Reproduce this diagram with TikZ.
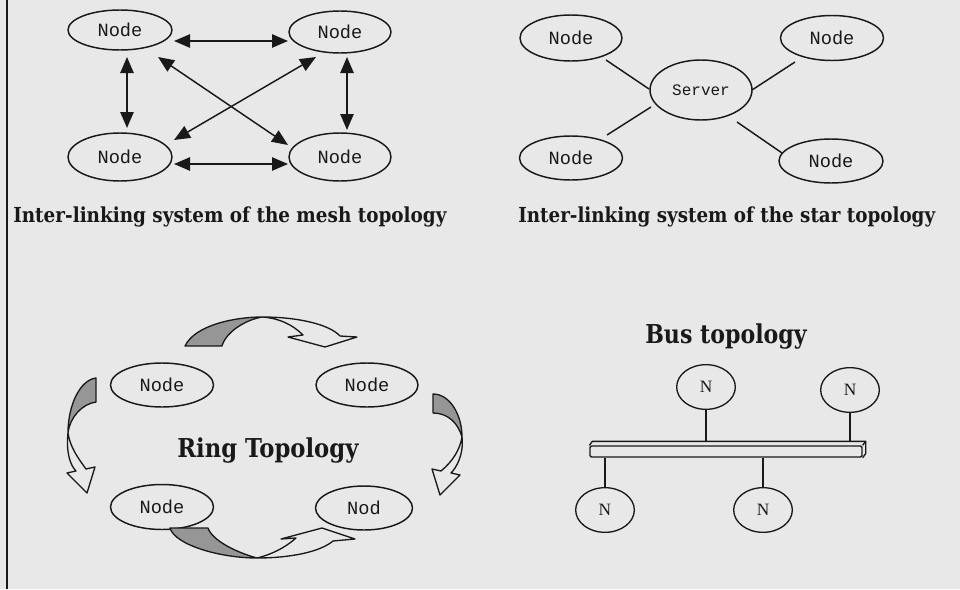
\documentclass[tikz,border=0pt]{standalone}
\usepackage{fontspec}
\usetikzlibrary{arrows.meta,calc,shapes.geometric}
\newfontfamily\monofam{Liberation Mono}
\newfontfamily\nfam{Liberation Serif}
\newfontfamily\capfam{DejaVu Serif}
\definecolor{bg}{RGB}{232,232,232}
\definecolor{ink}{RGB}{25,25,25}
\definecolor{shade}{RGB}{150,150,150}
\begin{document}
\begin{tikzpicture}[x=0.75pt,y=-0.75pt,line join=round,
  nd/.style={ellipse, draw=ink, line width=1.1pt, inner sep=0pt, text=ink,
    font=\monofam\fontsize{14}{16}\selectfont},
  bn/.style={ellipse, draw=ink, line width=1pt, inner sep=0pt, text=ink,
    minimum width=44pt, minimum height=33.5pt, font=\nfam\fontsize{13}{15}\selectfont},
  mesharrow/.style={draw=ink, line width=1.1pt,
    {Triangle[length=12pt,width=10pt]}-{Triangle[length=12pt,width=10pt]}},
  link/.style={draw=ink, line width=1.1pt},
  ribbon/.style={draw=ink, line width=1pt},
  capt/.style={anchor=base west, inner sep=0pt, text=ink,
    font=\capfam\bfseries\fontsize{15.5}{18}\selectfont},
  ttl/.style={anchor=base west, inner sep=0pt, text=ink,
    font=\capfam\bfseries\fontsize{19.5}{22}\selectfont}]
\useasboundingbox (0,0) rectangle (960,589);
\fill[bg] (0,0) rectangle (960,589);
\draw[ink, line width=1.5pt] (7,0) -- (7,589);

% ---------- mesh ----------
\node[nd, minimum width=78pt, minimum height=30pt] (m1) at (120,30) {Node};
\node[nd, minimum width=76.5pt, minimum height=31.5pt] (m2) at (340,32) {Node};
\node[nd, minimum width=78pt, minimum height=36pt] (m3) at (120,157) {Node};
\node[nd, minimum width=76.5pt, minimum height=36pt] (m4) at (340,157) {Node};
\draw[mesharrow] ($(m1)+(54,11)$) -- ($(m2)+(-52,9)$);
\draw[mesharrow] ($(m1)+(7,27)$) -- ($(m3)+(7,-29)$);
\draw[mesharrow] ($(m2)+(7,25)$) -- ($(m4)+(7,-27)$);
\draw[mesharrow] ($(m3)+(54,7)$) -- ($(m4)+(-52,7)$);
\draw[mesharrow] ($(m1)+(38,27)$) -- ($(m4)+(-52,-12)$);
\draw[mesharrow] ($(m3)+(54,-17)$) -- ($(m2)+(-24,25)$);
\node[capt] (c1) at (13,222) {\scalebox{0.89}[1]{Inter-linking system of the mesh topology}};

% ---------- star ----------
\node[nd, minimum width=76.5pt, minimum height=34.5pt] (s1) at (571,38) {Node};
\node[nd, minimum width=77.25pt, minimum height=33.75pt] (s2) at (832,38) {Node};
\node[nd, minimum width=76.5pt, minimum height=45pt, font=\monofam\fontsize{12}{14}\selectfont] (sv) at (701,90) {Server};
\node[nd, minimum width=77.25pt, minimum height=33pt] (s3) at (571,158) {Node};
\node[nd, minimum width=78pt, minimum height=33pt] (s4) at (831,161) {Node};
\draw[link] ($(s1)+(35,22)$) -- ($(sv)+(-52,-1)$);
\draw[link] ($(s2)+(-37,24)$) -- ($(sv)+(51,0)$);
\draw[link] ($(s3)+(36,-23)$) -- ($(sv)+(-50,17)$);
\draw[link] ($(s4)+(-49,-8)$) -- ($(sv)+(36,32)$);
\node[capt] (c2) at (518,222) {\scalebox{0.886}[1]{Inter-linking system of the star topology}};

% ---------- ring ----------
\node[nd, minimum width=77.25pt, minimum height=33pt] (r1) at (162,385) {Node};
\node[nd, minimum width=76.5pt, minimum height=33pt] (r2) at (367,385) {Node};
\node[nd, minimum width=77.25pt, minimum height=33.75pt] (r3) at (162,507) {Node};
\node[nd, minimum width=72.75pt, minimum height=33pt] (r4) at (364,508) {Nod};
\node[ttl] (rt) at (177,457) {\scalebox{0.874}[1]{Ring Topology}};
% top arrow
\filldraw[ribbon, fill=shade] (185,346) .. controls (195,325) and (235,317) .. (262,317)
  .. controls (245,320) and (226,332) .. (222,346) -- cycle;
\draw[ribbon] (262,317) .. controls (300,317) and (330,325) .. (340,336) -- (357,337)
  -- (325,347) -- (288,337) -- (303,335) .. controls (292,324) and (278,318) .. (262,317);
% left arrow
\filldraw[ribbon, fill=shade] (96,378) .. controls (80,380) and (68,405) .. (68,433)
  .. controls (70,417) and (82,404) .. (96,402) -- cycle;
\draw[ribbon] (68,433) .. controls (66,452) and (70,465) .. (76,471) -- (67,473)
  -- (87,493) -- (95,467) -- (86,469) .. controls (78,458) and (70,447) .. (68,433);
% right arrow
\filldraw[ribbon, fill=shade] (433,394) .. controls (450,394) and (462,415) .. (462,437)
  .. controls (458,423) and (448,413) .. (433,413) -- cycle;
\draw[ribbon] (462,437) .. controls (464,455) and (456,468) .. (451,473) -- (460,475)
  -- (440,495) -- (432,469) -- (441,471) .. controls (452,462) and (460,450) .. (462,437);
% bottom arrow
\filldraw[ribbon, fill=shade] (170,528) .. controls (175,545) and (220,558) .. (257,558)
  .. controls (235,552) and (212,540) .. (208,528) -- cycle;
\draw[ribbon] (257,558) .. controls (290,558) and (320,552) .. (333,541) -- (355,539)
  -- (322,528) -- (281,539) -- (296,538) .. controls (285,548) and (270,555) .. (257,558);

% ---------- bus ----------
\node[ttl] (bt) at (645,343) {\scalebox{0.85}[1]{Bus topology}};
\node[bn] (b1) at (706,387) {N};
\node[bn] (b2) at (850,390) {N};
\node[bn] (b3) at (605,510) {N};
\node[bn] (b4) at (763,510) {N};
\node[draw=ink, line width=1pt, rounded corners=1pt, minimum width=204pt,
  minimum height=8.25pt, inner sep=0pt] (bar) at (726,451.5) {};
\draw[ribbon] (bar.north west) -- ++(3,-4) -- ($(bar.north east)+(3,-4)$)
  -- ($(bar.south east)+(3,-4)$) -- (bar.south east);
\draw[ribbon] ($(bar.north east)+(3,-4)$) -- (bar.north east);
\draw[link] (b1.south) -- ($(b1.south |- bar.north)+(0,-4)$);
\draw[link] (b2.south) -- ($(b2.south |- bar.north)+(0,-4)$);
\draw[link] (b3.north) -- (b3.north |- bar.south);
\draw[link] (b4.north) -- (b4.north |- bar.south);
\end{tikzpicture}
\end{document}
